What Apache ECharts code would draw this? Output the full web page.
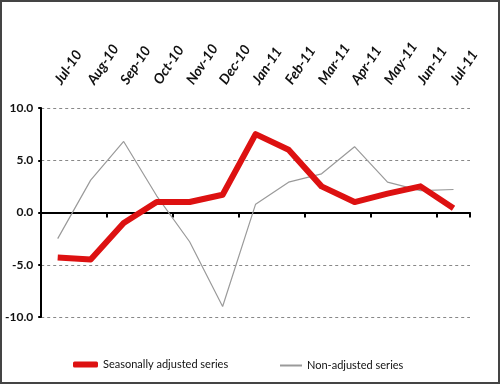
<!DOCTYPE html>
<html><head><meta charset="utf-8">
<script src="https://cdn.jsdelivr.net/npm/echarts@6/dist/echarts.min.js"></script>
<style>html,body{margin:0;padding:0;background:#fff}#c{width:500px;height:384px;box-sizing:border-box;border:2px solid #444}</style>
</head><body><div id="c"></div>
<script>
const categories = ['Jul-10','Aug-10','Sep-10','Oct-10','Nov-10','Dec-10','Jan-11','Feb-11','Mar-11','Apr-11','May-11','Jun-11','Jul-11'];
const seasonallyAdjusted = [-4.3,-4.5,-1.0,1.0,1.0,1.7,7.5,6.0,2.5,1.0,1.8,2.5,0.4];
const nonAdjusted = [-2.5,3.1,6.8,1.6,-2.8,-9.0,0.8,2.9,3.7,6.3,2.9,2.1,2.2];
const yTicks = [-10,-5,0,5,10];

const font = 'Lato,"Open Sans",sans-serif';
const chart = echarts.init(document.getElementById('c'));
chart.setOption({
  animation:false,
  grid:{left:39,right:28,top:106,bottom:65},
  xAxis:[{
    type:'category',data:categories,boundaryGap:true,
    axisLine:{onZero:true,lineStyle:{color:'#000',width:2}},
    axisTick:{show:true,inside:false,length:5,lineStyle:{color:'#000',width:2},alignWithLabel:false},
    axisLabel:{show:false},splitLine:{show:false}
  },{
    type:'category',data:categories,boundaryGap:true,position:'top',offset:23,
    axisLine:{show:false},axisTick:{show:false},
    axisLabel:{rotate:-56,fontFamily:font,fontSize:14,fontWeight:'bold',fontStyle:'italic',color:'#111',margin:2}
  }],
  yAxis:{
    type:'value',min:yTicks[0],max:yTicks[yTicks.length-1],interval:5,
    axisLine:{show:true,lineStyle:{color:'#000',width:2}},
    axisTick:{show:true,length:3,lineStyle:{color:'#000',width:2}},
    axisLabel:{formatter:v=>v.toFixed(1),fontFamily:font,fontSize:12,fontWeight:'bold',color:'#111',margin:8},
    splitLine:{show:true,lineStyle:{type:[3,3],color:'#888',width:1}}
  },
  legend:[{
    data:[{name:'Seasonally adjusted series',icon:'roundRect'}],
    left:66,top:352,itemWidth:25,itemHeight:6,itemGap:10,
    textStyle:{fontFamily:font,fontSize:11,color:'#111'}
  },{
    data:[{name:'Non-adjusted series',icon:'rect'}],
    left:273,top:353,itemWidth:22,itemHeight:2,itemGap:12,
    textStyle:{fontFamily:font,fontSize:11,color:'#111'}
  }],
  series:[{
    name:'Non-adjusted series',type:'line',data:nonAdjusted,symbol:'none',
    lineStyle:{color:'#9a9a9a',width:1.2},itemStyle:{color:'#9a9a9a'},z:2
  },{
    name:'Seasonally adjusted series',type:'line',data:seasonallyAdjusted,symbol:'none',
    lineStyle:{color:'#dd1111',width:6,join:'round'},itemStyle:{color:'#dd1111'},z:3
  }]
});
</script></body></html>
